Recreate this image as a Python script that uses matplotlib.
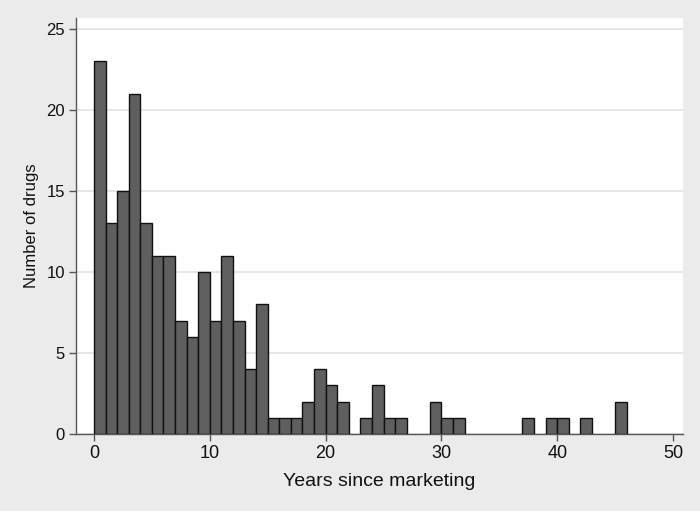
import matplotlib.pyplot as plt

# histogram bins (1-year width, left edge) and counts
bin_start = [0, 1, 2, 3, 4, 5, 6, 7, 8, 9, 10, 11, 12, 13, 14, 15, 16, 17, 18, 19,
             20, 21, 23, 24, 25, 26, 29, 30, 31, 37, 39, 40, 42, 45]
counts = [23, 13, 15, 21, 13, 11, 11, 7, 6, 10, 7, 11, 7, 4, 8, 1, 1, 1, 2, 4,
          3, 2, 1, 3, 1, 1, 2, 1, 1, 1, 1, 1, 1, 2]

x_ticks = [0, 10, 20, 30, 40, 50]
y_ticks = [0, 5, 10, 15, 20, 25]

plt.rcParams['font.family'] = ['Liberation Sans', 'DejaVu Sans']

fig = plt.figure(figsize=(7, 5.11), dpi=100, facecolor='#ebebeb')
ax = fig.add_axes([0.1086, 0.1507, 0.8671, 0.8141])
ax.set_facecolor('white')

ax.bar(bin_start, counts, width=1, align='edge', color='#5f5f5f',
       edgecolor='#111111', linewidth=1.0, zorder=3)

ax.set_xlim(-1.55, 50.86)
ax.set_ylim(0, 25.68)
ax.set_xticks(x_ticks)
ax.set_yticks(y_ticks)
ax.yaxis.grid(True, color='#e3e3e3', linewidth=1.2, zorder=0)
ax.set_axisbelow(True)

for side in ['top', 'right']:
    ax.spines[side].set_visible(False)
for side in ['left', 'bottom']:
    ax.spines[side].set_color('#555555')
    ax.spines[side].set_linewidth(1.0)

ax.tick_params(axis='both', direction='out', length=5, width=1, color='#555555',
               labelcolor='#111111', pad=3)
ax.tick_params(axis='x', labelsize=13)
ax.tick_params(axis='y', labelsize=12)

ax.set_xlabel('Years since marketing', fontsize=14, color='#111111', labelpad=8)
ax.set_ylabel('Number of drugs', fontsize=12, color='#111111', labelpad=5)

fig.savefig('out.png', dpi=100, facecolor=fig.get_facecolor())
